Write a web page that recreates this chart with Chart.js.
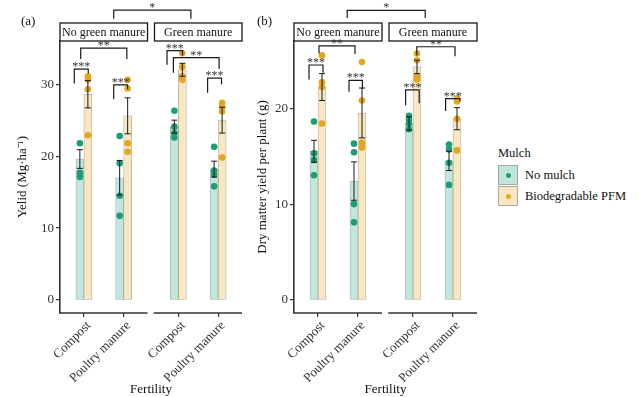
<!DOCTYPE html>
<html>
<head>
<meta charset="utf-8">
<script src="https://cdn.jsdelivr.net/npm/chart.js@4/dist/chart.umd.min.js"></script>
<style>
  html, body { margin: 0; padding: 0; background: #fff; }
  body { width: 639px; height: 397px; position: relative; overflow: hidden; font-family: 'Liberation Serif', 'Times New Roman', serif; color: #111; }
  #ca { position: absolute; left: 0; top: 0; }
  #cb { position: absolute; left: 246px; top: 0; }
  .lg { position: absolute; font-size: 12.5px; line-height: 14px; white-space: nowrap; }
  .key { position: absolute; width: 20px; height: 20px; box-sizing: border-box; border: 1px solid #a8a8a8; }
  .dot { position: absolute; left: 7px; top: 7px; width: 5px; height: 5px; border-radius: 50%; }
</style>
</head>
<body>
<canvas id="ca" width="246" height="397"></canvas>
<canvas id="cb" width="244" height="397"></canvas>
<div id="legend"></div>
<script>
// ---------------- data ----------------
const fertility = ['Compost', 'Poultry manure'];
const greenManure = ['No green manure', 'Green manure'];
const mulch = ['No mulch', 'Biodegradable PFM'];
const legendTitle = 'Mulch';
const xTickLabels = [fertility[0], fertility[1], fertility[0], fertility[1]];

// order of groups: No green manure-Compost, No green manure-Poultry, Green manure-Compost, Green manure-Poultry
// (a) Yield (Mg/ha)
const yieldMeanNoMulch = [19.6, 17.0, 24.1, 18.2];
const yieldSeNoMulch   = [1.3, 2.4, 0.9, 1.1];
const yieldMeanPFM     = [28.6, 25.6, 32.0, 25.0];
const yieldSePFM       = [1.9, 2.5, 0.9, 1.8];
const yieldPtsNoMulch  = [[21.8, 17.7, 17.1], [22.8, 19.0, 14.5, 11.7], [26.3, 24.1, 23.2, 22.6], [21.3, 18.0, 17.4, 15.8]];
const yieldPtsPFM      = [[31.1, 30.6, 29.3, 22.9], [30.6, 29.4, 21.8, 20.6], [34.3, 32.4, 31.1, 30.6], [27.4, 26.8, 26.2, 19.8]];
const yieldTicks = [0, 10, 20, 30];

// (b) Dry matter yield per plant (g)
const dmMeanNoMulch = [15.5, 12.4, 18.4, 14.5];
const dmSeNoMulch   = [1.15, 2.0, 0.7, 1.0];
const dmMeanPFM     = [22.2, 19.5, 24.3, 18.9];
const dmSePFM       = [1.4, 2.6, 0.7, 1.15];
const dmPtsNoMulch  = [[18.6, 15.3, 14.6, 13.0], [16.3, 15.4, 10.0, 8.1], [19.2, 18.8, 18.4, 17.8], [16.2, 15.7, 14.3, 12.0]];
const dmPtsPFM      = [[25.5, 22.7, 22.2, 18.4], [24.8, 20.8, 16.4, 15.9], [25.7, 25.0, 23.3, 23.0], [21.0, 20.7, 18.9, 15.6]];
const dmTicks = [0, 10, 20];

// significance brackets: [xStart, xEnd, yTop, yLeftEnd, yRightEnd, label] (x in group units, y in data units)
const yieldSig = [
  [0.76, 1.11, 32.1, 30.1, 31.5, '***'],
  [1.75, 2.10, 29.9, 27.9, 29.3, '***'],
  [0.92, 2.08, 35.0, 33.5, 33.5, '**'],
  [3.09, 3.48, 34.65, 32.7, 34.0, '***'],
  [3.25, 4.40, 33.7, 31.6, 32.1, '**'],
  [4.11, 4.46, 30.85, 28.8, 30.0, '***'],
  [1.75, 3.69, 40.3, 39.1, 39.1, '*']
];
const dmSig = [
  [0.775, 1.125, 24.5, 23.0, 23.7, '***'],
  [1.775, 2.11, 22.9, 21.7, 22.0, '***'],
  [1.025, 1.925, 26.5, 25.7, 25.65, '**'],
  [3.19, 3.53, 21.9, 20.3, 20.5, '***'],
  [3.47, 4.425, 26.4, 25.5, 25.4, '**'],
  [4.19, 4.55, 21.0, 19.7, 20.7, '***'],
  [1.73, 3.68, 30.2, 29.4, 29.4, '*']
];

// ---------------- layout / style ----------------
const catPos = [1, 2, 3.375, 4.375];          // group centres on the shared x axis
const facetRanges = [[0.4, 2.6], [2.775, 4.975]];
const DODGE = 0.1;
const PT_G = '#1b9e77', PT_O = '#e6a619';
const BAR_G = '#c1e6db', BAR_O = '#f9e7c1';
const BAR_BORDER = 'rgba(110,110,110,0.55)';
const AX = '#333333';
const FONT = "'Liberation Serif', 'Times New Roman', serif";

Chart.defaults.font.family = FONT;
Chart.defaults.color = '#333';

function decorations(p) {
  return {
    id: 'deco' + p.tag.replace(/\W/g, ''),
    afterDatasetsDraw(chart) {
      const ctx = chart.ctx, ys = chart.scales.y;
      ctx.save();
      ctx.strokeStyle = '#1a1a1a';
      ctx.lineWidth = 1;
      [[0, p.meanA, p.seA], [1, p.meanB, p.seB]].forEach(([di, m, s]) => {
        chart.getDatasetMeta(di).data.forEach((bar, i) => {
          const x = bar.x;
          const y1 = ys.getPixelForValue(m[i] + s[i]);
          const y2 = ys.getPixelForValue(m[i] - s[i]);
          ctx.beginPath();
          ctx.moveTo(x, y1); ctx.lineTo(x, y2);
          ctx.moveTo(x - 3, y1); ctx.lineTo(x + 3, y1);
          ctx.moveTo(x - 3, y2); ctx.lineTo(x + 3, y2);
          ctx.stroke();
        });
      });
      ctx.restore();
    },
    afterDraw(chart) {
      const ctx = chart.ctx, xs = chart.scales.x, ys = chart.scales.y, ca = chart.chartArea;
      ctx.save();
      // facet x-axis lines
      ctx.strokeStyle = AX; ctx.lineWidth = 1.6;
      facetRanges.forEach(([a, b]) => {
        ctx.beginPath();
        ctx.moveTo(xs.getPixelForValue(a) - 0.8, ca.bottom);
        ctx.lineTo(xs.getPixelForValue(b), ca.bottom);
        ctx.stroke();
      });
      // facet strips
      facetRanges.forEach(([a, b], k) => {
        const x0 = xs.getPixelForValue(a), x1 = xs.getPixelForValue(b);
        const h = 18, t = ca.top - h;
        ctx.fillStyle = '#fff';
        ctx.fillRect(x0, t, x1 - x0, h);
        ctx.strokeStyle = '#1a1a1a'; ctx.lineWidth = 1.3;
        ctx.strokeRect(x0, t, x1 - x0, h);
        ctx.fillStyle = '#111';
        ctx.font = '12px ' + FONT;
        ctx.textAlign = 'center'; ctx.textBaseline = 'middle';
        ctx.fillText(greenManure[k], (x0 + x1) / 2, t + h / 2 + 0.5);
      });
      // significance brackets
      ctx.strokeStyle = '#1a1a1a'; ctx.lineWidth = 1.2;
      p.sig.forEach(([xa, xb, yt, yl, yr, lab]) => {
        const X1 = xs.getPixelForValue(xa), X2 = xs.getPixelForValue(xb);
        const YT = ys.getPixelForValue(yt), YL = ys.getPixelForValue(yl), YR = ys.getPixelForValue(yr);
        ctx.beginPath();
        ctx.moveTo(X1, YL); ctx.lineTo(X1, YT); ctx.lineTo(X2, YT); ctx.lineTo(X2, YR);
        ctx.stroke();
        ctx.fillStyle = '#333';
        ctx.font = '12px ' + FONT;
        ctx.textAlign = 'center'; ctx.textBaseline = 'alphabetic';
        ctx.fillText(lab, (X1 + X2) / 2, YT + 1);
      });
      // panel tag
      ctx.fillStyle = '#111';
      ctx.font = '13px ' + FONT;
      ctx.textAlign = 'left'; ctx.textBaseline = 'middle';
      ctx.fillText(p.tag, p.tagX, 22);
      ctx.restore();
    }
  };
}

function buildPanel(id, p) {
  return new Chart(document.getElementById(id), {
    type: 'bar',
    data: {
      datasets: [
        { label: mulch[0], data: catPos.map((x, i) => ({ x, y: p.meanA[i] })), backgroundColor: BAR_G,
          borderColor: BAR_BORDER, borderWidth: 0.8, borderSkipped: false, barThickness: 8, order: 2 },
        { label: mulch[1], data: catPos.map((x, i) => ({ x, y: p.meanB[i] })), backgroundColor: BAR_O,
          borderColor: BAR_BORDER, borderWidth: 0.8, borderSkipped: false, barThickness: 8, order: 2 },
        { type: 'scatter', label: mulch[0], order: 1,
          data: p.ptsA.flatMap((arr, i) => arr.map(y => ({ x: catPos[i] - DODGE, y }))),
          backgroundColor: PT_G, borderWidth: 0, pointRadius: 3.3 },
        { type: 'scatter', label: mulch[1], order: 1,
          data: p.ptsB.flatMap((arr, i) => arr.map(y => ({ x: catPos[i] + DODGE, y }))),
          backgroundColor: PT_O, borderWidth: 0, pointRadius: 3.3 }
      ]
    },
    options: {
      responsive: false, animation: false, events: [],
      layout: { padding: { top: 41, right: p.padRight, left: 0, bottom: 0 } },
      plugins: { legend: { display: false }, tooltip: { enabled: false } },
      scales: {
        x: {
          type: 'linear', min: facetRanges[0][0], max: facetRanges[1][1], bounds: 'data', offset: false,
          afterBuildTicks: s => { s.ticks = catPos.map(v => ({ value: v })); },
          afterFit: s => { s.height = 84; },
          grid: { display: true, drawOnChartArea: false, drawTicks: true, tickLength: 4, color: AX, lineWidth: 1.2, offset: false },
          border: { display: false },
          ticks: { autoSkip: false, minRotation: 45, maxRotation: 45, padding: 1, labelOffset: 5, font: { size: 13 }, color: '#333',
                   callback: (v, i) => xTickLabels[i] },
          title: { display: true, text: 'Fertility', font: { size: 13 }, color: '#111', padding: { top: 0, bottom: 0 } }
        },
        y: {
          min: p.yMin, max: p.yMax, bounds: 'data',
          afterBuildTicks: s => { s.ticks = p.yTicks.map(v => ({ value: v })); },
          afterFit: s => { s.width = p.yWidth; },
          grid: { display: true, drawOnChartArea: false, drawTicks: true, tickLength: 4, color: AX, lineWidth: 1.2 },
          border: { display: true, color: AX, width: 1.6 },
          ticks: { padding: 2, font: { size: 13 }, color: '#333' },
          title: { display: true, text: p.yTitle, font: { size: 13 }, color: '#111', padding: { top: p.yTitlePad, bottom: 0 } }
        }
      }
    },
    plugins: [decorations(p)]
  });
}

buildPanel('ca', {
  tag: '(a)', tagX: 21, yTitle: 'Yelid (Mg·ha⁻¹)', yTitlePad: 15, yWidth: 60, padRight: 3,
  yMin: -1.8, yMax: 36, yTicks: yieldTicks,
  meanA: yieldMeanNoMulch, seA: yieldSeNoMulch, meanB: yieldMeanPFM, seB: yieldSePFM,
  ptsA: yieldPtsNoMulch, ptsB: yieldPtsPFM, sig: yieldSig
});
buildPanel('cb', {
  tag: '(b)', tagX: 11, yTitle: 'Dry matter yield per plant (g)', yTitlePad: 9, yWidth: 48, padRight: 13,
  yMin: -1.35, yMax: 27, yTicks: dmTicks,
  meanA: dmMeanNoMulch, seA: dmSeNoMulch, meanB: dmMeanPFM, seB: dmSePFM,
  ptsA: dmPtsNoMulch, ptsB: dmPtsPFM, sig: dmSig
});

// legend (HTML)
(function () {
  const lg = document.getElementById('legend');
  const add = (html) => { lg.insertAdjacentHTML('beforeend', html); };
  add(`<div class="lg" style="left:498px;top:146px">${legendTitle}</div>`);
  const fills = [BAR_G, BAR_O], pts = [PT_G, PT_O];
  mulch.forEach((m, i) => {
    const top = 164.5 + i * 21;
    add(`<div class="key" style="left:498px;top:${top}px;background:${fills[i]}"><div class="dot" style="background:${pts[i]}"></div></div>`);
    add(`<div class="lg" style="left:525px;top:${top + 3}px">${m}</div>`);
  });
})();
</script>
</body>
</html>
